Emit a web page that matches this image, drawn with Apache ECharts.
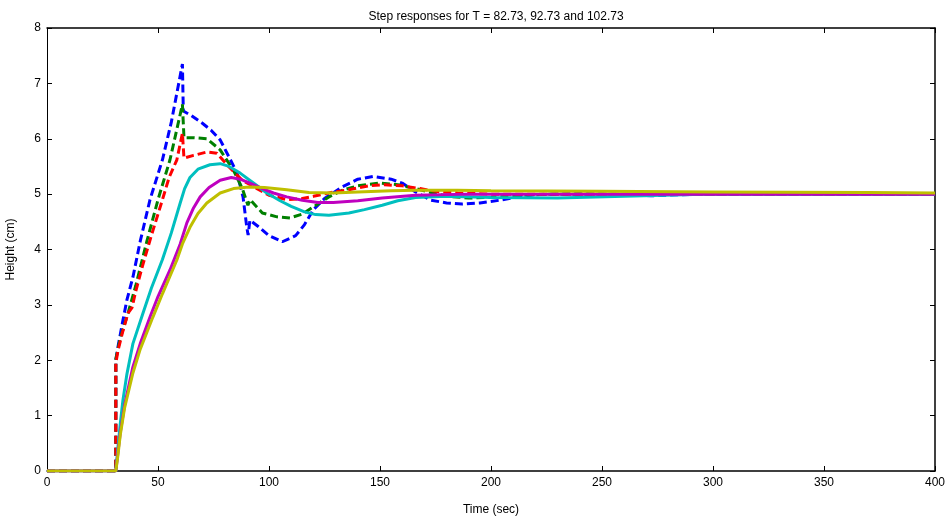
<!DOCTYPE html>
<html>
<head>
<meta charset="utf-8">
<title>Step responses</title>
<script src="https://cdn.jsdelivr.net/npm/echarts@6/dist/echarts.min.js"></script>
<style>
  html, body { margin: 0; padding: 0; background: #fff; }
  #chart { width: 949px; height: 520px; }
</style>
</head>
<body>
<div id="chart"></div>
<script>
// tick labels
const xTicks = [0, 50, 100, 150, 200, 250, 300, 350, 400];
const yTicks = [0, 1, 2, 3, 4, 5, 6, 7, 8];

// [time, height]
const blue = [[0,0],[31,0],[31,2.0],[32,2.25],[34.2,2.72],[36,3.09],[38.7,3.5],[42,4.15],[46.4,4.9],[52,5.62],[56,6.3],[61,7.35],
  [61.4,6.5],[65,6.42],[70,6.28],[74,6.15],[78,5.98],[82,5.67],[85.6,5.38],[88.3,4.95],[90,4.4],[90.6,4.26],[91.4,4.53],[95,4.42],
  [100,4.25],[106,4.14],[112,4.25],[116,4.45],[120,4.72],[125,4.92],[133,5.13],[140,5.27],[147,5.32],[155,5.27],[160,5.2],
  [166,5.04],[173,4.89],[180,4.84],[187,4.82],[195,4.84],[204,4.89],[212,4.95],[220,4.99],[240,5.01],[260,4.99],[272,4.97],
  [285,4.99],[300,5.0],[400,5.0]];
const green = [[0,0],[31,0],[31,2.02],[33,2.4],[36.5,2.85],[40,3.35],[45,4.15],[50,4.9],[55.4,5.62],[61,6.62],
  [61.7,6.02],[66,6.02],[72,6.0],[78,5.8],[84,5.43],[88,5.1],[90.5,4.8],[91.5,4.9],[97,4.66],[103.6,4.59],[109.5,4.57],
  [115,4.64],[120,4.77],[127,4.95],[133,5.07],[140,5.15],[150,5.2],[158,5.17],[166,5.1],[174,5.02],[181,4.96],[190,4.93],
  [200,4.94],[210,4.97],[225,5.0],[400,5.0]];
const red = [[0,0],[31,0],[31,1.95],[32,2.18],[34,2.5],[36.5,2.85],[38.3,2.95],[40,3.25],[43,3.7],[47,4.25],[52,4.9],[55,5.3],
  [58.5,5.62],[61,6.1],[61.7,5.65],[66,5.7],[72,5.76],[76.5,5.74],[82,5.49],[88,5.25],[94.6,5.1],[100,4.98],[108,4.9],
  [115,4.92],[120,4.96],[128,5.03],[136,5.08],[145,5.15],[152,5.17],[160,5.15],[168,5.1],[175,5.05],[185,5.02],[200,5.0],
  [400,5.0]];
const cyan = [[0,0],[31,0],[32,0.45],[33,0.85],[34.2,1.28],[36,1.75],[38.7,2.3],[43,2.82],[47,3.3],[52,3.82],[56,4.3],
  [60,4.84],[62,5.1],[64.4,5.3],[68,5.45],[73.4,5.53],[78,5.55],[82,5.5],[87,5.38],[93,5.2],[99,5.02],[105,4.88],[110,4.78],
  [116,4.68],[121,4.63],[127,4.62],[136,4.66],[143,4.72],[151,4.8],[158,4.88],[166,4.94],[180,4.96],[200,4.94],[230,4.93],
  [260,4.96],[300,5.0],[400,5.0]];
const magenta = [[0,0],[31,0],[32,0.35],[33,0.69],[35,1.2],[38.7,1.88],[42,2.3],[46.4,2.78],[50,3.15],[55.4,3.63],[60,4.1],
  [63,4.48],[66,4.75],[69,4.95],[73,5.12],[78,5.25],[83,5.3],[87,5.27],[91.4,5.2],[97,5.1],[102,5.02],[108,4.95],[115,4.89],
  [122,4.85],[129,4.85],[140,4.88],[151,4.93],[166,4.98],[190,5.0],[400,5.0]];
const yellow = [[0,0],[31,0],[32,0.3],[33,0.65],[35,1.15],[38.7,1.77],[42,2.2],[47.7,2.78],[52,3.2],[58.5,3.81],[61,4.1],
  [64.4,4.4],[68,4.65],[72,4.84],[78,5.02],[84,5.1],[91,5.13],[98,5.12],[108,5.08],[118,5.03],[129,5.02],[140,5.04],
  [155,5.06],[166,5.07],[185,5.07],[200,5.06],[250,5.05],[300,5.04],[370,5.03],[400,5.02]];

const font = '"Liberation Sans Narrow", "Liberation Sans", Arial, sans-serif';

const chart = echarts.init(document.getElementById('chart'));

function line(data, color, dashed) {
  return {
    type: 'line',
    data: data,
    showSymbol: false,
    silent: true,
    lineStyle: { color: color, width: 3, type: dashed ? [8, 4] : 'solid' },
  };
}

// top and right edges of the box, ticks only
const frameAxis = {
  min: 0,
  axisLine: { show: true, onZero: false, lineStyle: { color: '#000', width: 1.5 } },
  axisTick: { show: true, inside: true, length: 5, lineStyle: { color: '#000' } },
  axisLabel: { show: false },
  splitLine: { show: false },
};

chart.setOption({
  animation: false,
  backgroundColor: '#fff',
  title: {
    text: 'Step responses for T = 82.73, 92.73 and 102.73',
    left: 491,
    textAlign: 'center',
    top: 6,
    textStyle: { fontFamily: font, fontSize: 12, fontWeight: 'normal', color: '#000' },
  },
  grid: { left: 47, right: 14, top: 28, bottom: 49, outerBoundsMode: 'none' },
  xAxis: [
    {
      type: 'value', min: 0, max: 400, interval: 50,
      name: 'Time (sec)', nameLocation: 'middle', nameGap: 33,
      nameTextStyle: { fontFamily: font, fontSize: 12, color: '#000' },
      axisLine: { show: true, onZero: false, lineStyle: { color: '#000', width: 1.5 } },
      axisTick: { show: true, inside: true, length: 5, lineStyle: { color: '#000' } },
      axisLabel: { fontFamily: font, fontSize: 12, color: '#000', margin: 6,
        formatter: v => xTicks.includes(v) ? String(v) : '' },
      splitLine: { show: false },
    },
    Object.assign({ type: 'value', position: 'top', max: 400, interval: 50 }, frameAxis),
  ],
  yAxis: [
    {
      type: 'value', min: 0, max: 8, interval: 1,
      name: 'Height (cm)', nameLocation: 'middle', nameGap: 30,
      nameTextStyle: { fontFamily: font, fontSize: 12, color: '#000' },
      axisLine: { show: true, onZero: false, lineStyle: { color: '#000', width: 1 } },
      axisTick: { show: true, inside: true, length: 5, lineStyle: { color: '#000' } },
      axisLabel: { fontFamily: font, fontSize: 12, color: '#000', margin: 6,
        formatter: v => yTicks.includes(v) ? String(v) : '' },
      splitLine: { show: false },
    },
    Object.assign({ type: 'value', position: 'right', max: 8, interval: 1 }, frameAxis),
  ],
  series: [
    line(blue, '#0000ff', true),
    line(green, '#008000', true),
    line(red, '#ff0000', true),
    line(cyan, '#00bfbf', false),
    line(magenta, '#bf00bf', false),
    line(yellow, '#bfbf00', false),
  ],
});
</script>
</body>
</html>
